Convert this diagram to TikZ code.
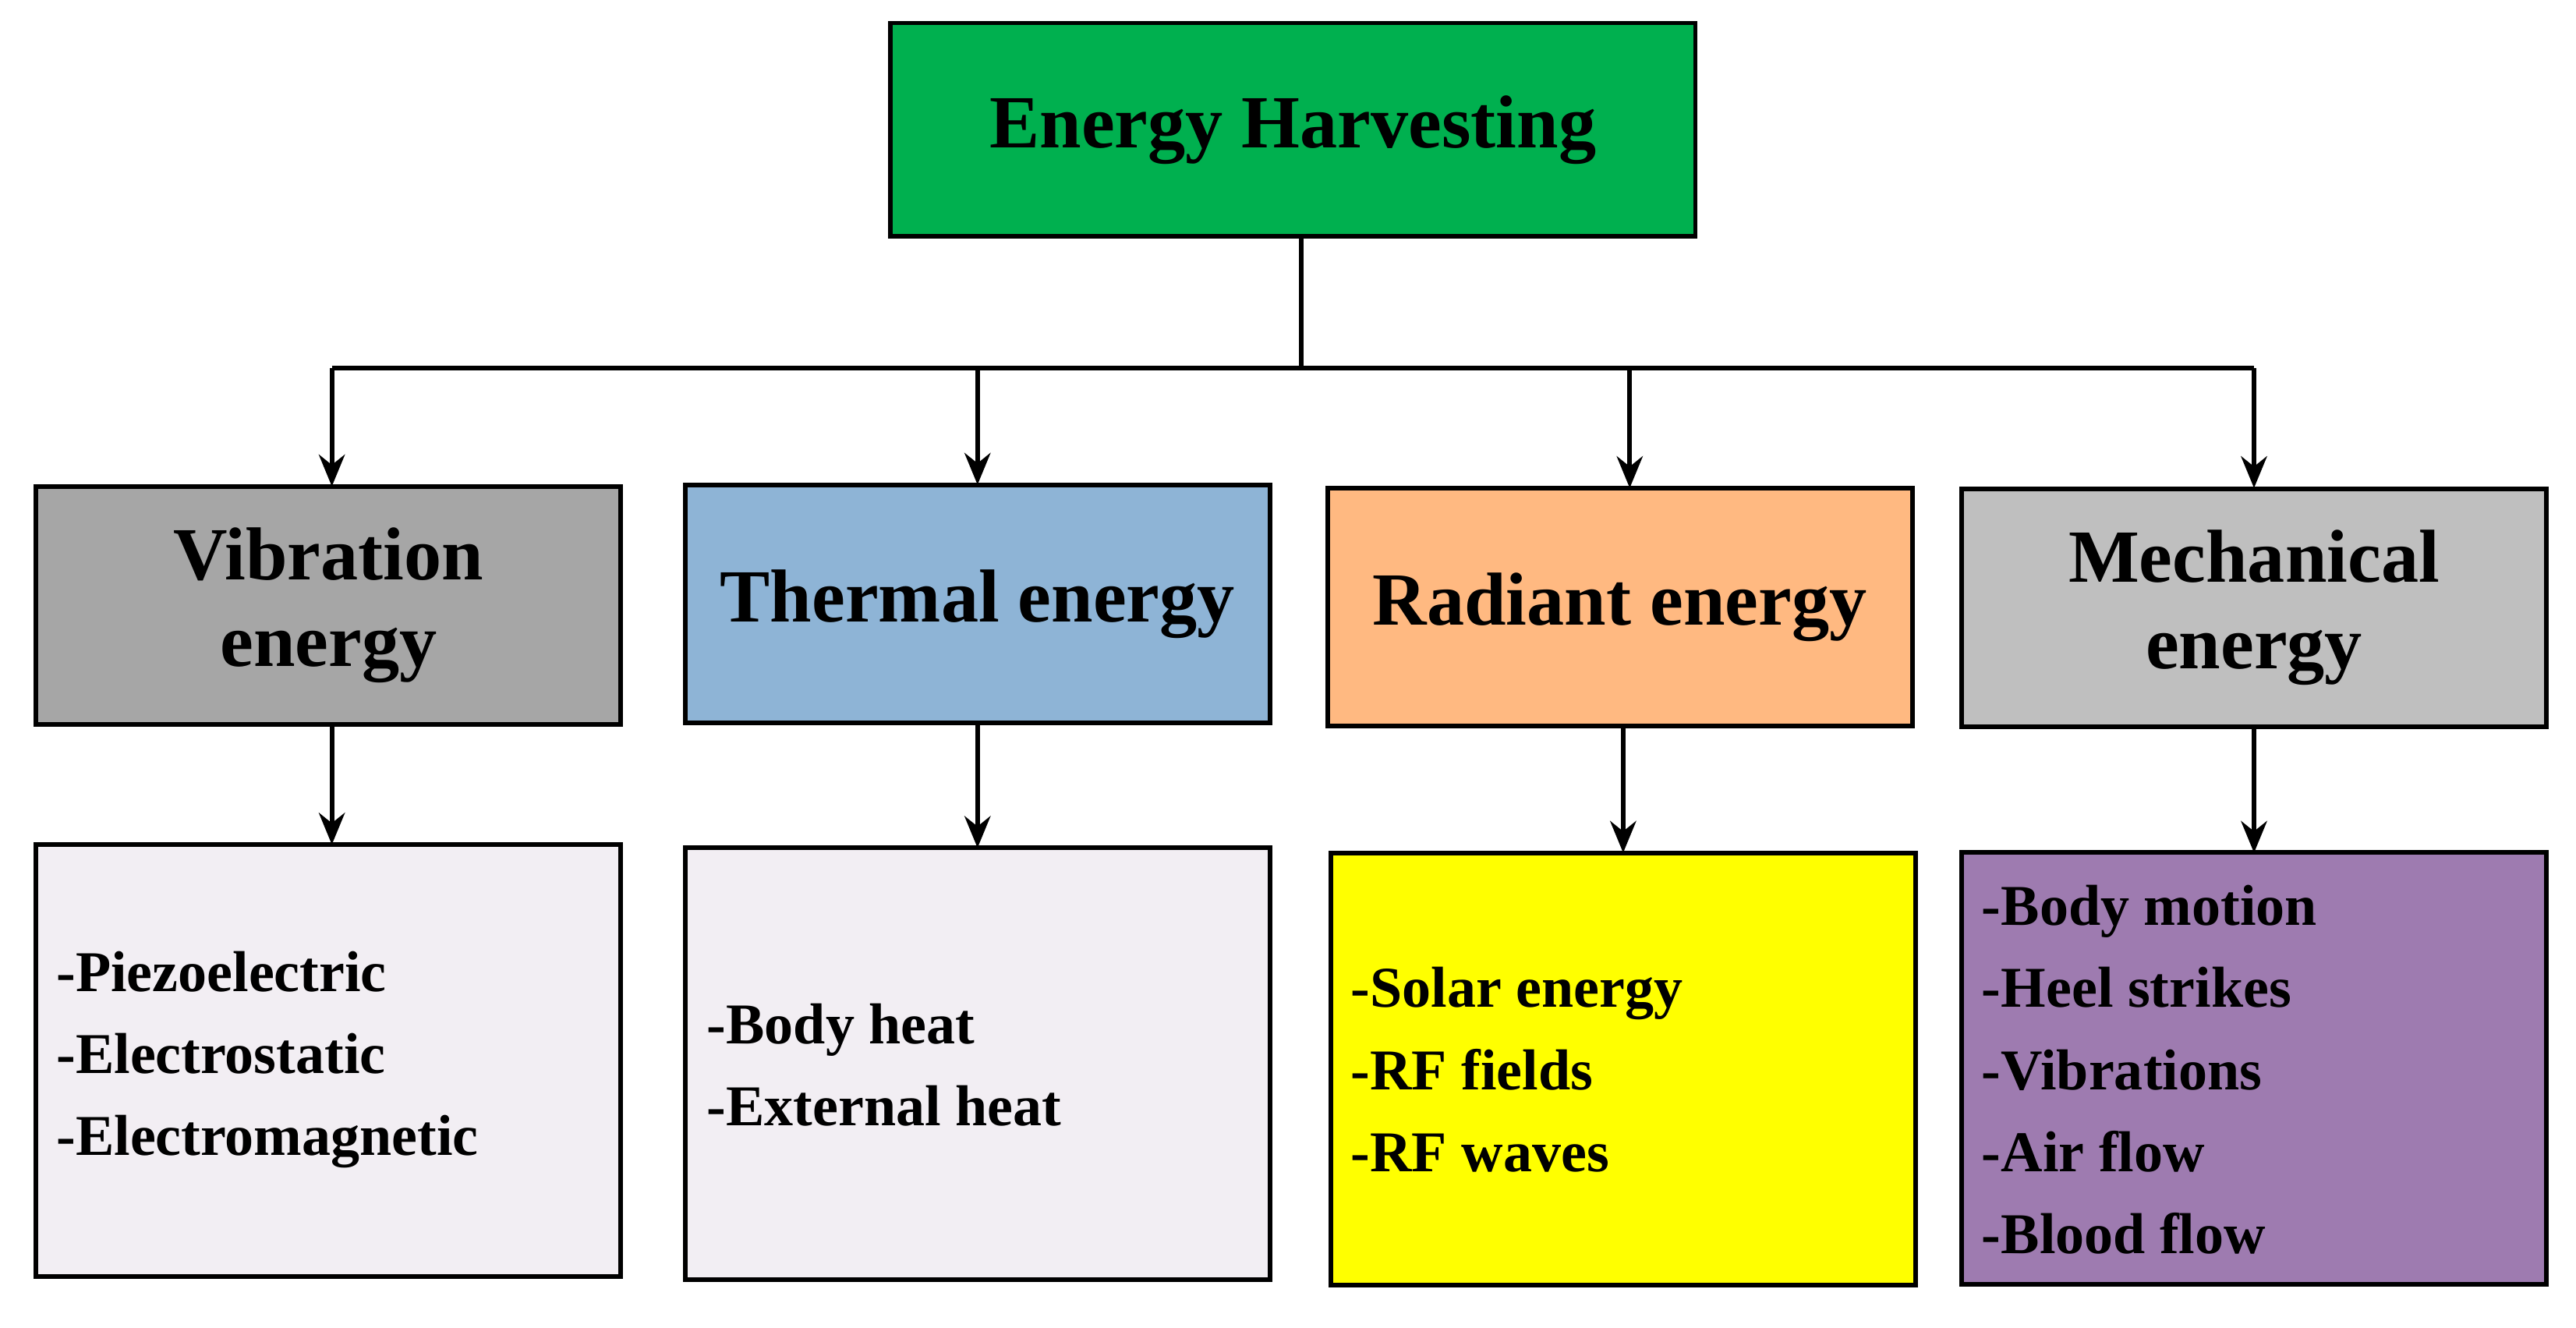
\documentclass[tikz,border=0pt]{standalone}
\usepackage{fontspec}
\setmainfont{Liberation Serif}
\usetikzlibrary{arrows.meta}
\definecolor{cgreen}{HTML}{00B04F}
\definecolor{cvib}{HTML}{A6A6A6}
\definecolor{ctherm}{HTML}{8EB4D6}
\definecolor{crad}{HTML}{FFB981}
\definecolor{cmech}{HTML}{BFBFBF}
\definecolor{clight}{HTML}{F2EEF3}
\definecolor{cyel}{HTML}{FFFF00}
\definecolor{cpur}{HTML}{9E7BB0}
\begin{document}
\begin{tikzpicture}[x=0.02cm,y=-0.02cm,
  box/.style={draw=black,line width=1.6pt,inner sep=0pt,font=\bfseries\fontsize{26}{30}\selectfont,align=center},
  cat/.style={box,minimum width=7.12cm,minimum height=2.9cm},
  leaf/.style={box,minimum width=7.12cm,minimum height=5.26cm},
  items/.style={anchor=west,align=left,font=\bfseries\fontsize{20}{28.45}\selectfont,inner sep=0pt},
  arr/.style={line width=1.6pt,-{Stealth[length=11pt,width=9pt]}},
  ln/.style={line width=1.6pt}]
\useasboundingbox (0,0) rectangle (1568,808);
\node[box,fill=cgreen,minimum width=9.8cm,minimum height=2.6cm] (top) at (787,79) {Energy Harvesting};
\node[cat,fill=cvib] (vib) at (200,368.5) {Vibration\\energy};
\node[cat,fill=ctherm] (the) at (595,367.5) {Thermal energy};
\node[cat,fill=crad] (rad) at (986,369.5) {Radiant energy};
\node[cat,fill=cmech] (mec) at (1372,370) {Mechanical\\energy};
\node[leaf,fill=clight] (l1) at (200,645.5) {};
\node[leaf,fill=clight] (l2) at (595,647.5) {};
\node[leaf,fill=cyel] (l3) at (988,650.5) {};
\node[leaf,fill=cpur] (l4) at (1372,650) {};
\node[items] (t1) at (34,645) {-Piezoelectric\\-Electrostatic\\-Electromagnetic};
\node[items] (t2) at (430,648) {-Body heat\\-External heat};
\node[items] (t3) at (822,651) {-Solar energy\\-RF fields\\-RF waves};
\node[items] (t4) at (1206,651) {-Body motion\\-Heel strikes\\-Vibrations\\-Air flow\\-Blood flow};
\coordinate (j) at (792,224);
\draw[ln] (top.south -| j) -- (j);
\draw[ln] (202,224) -- (1372,224);
\draw[arr] (202,224) -- (202,296);
\draw[arr] (595,224) -- (595,295);
\draw[arr] (992,224) -- (992,297);
\draw[arr] (1372,224) -- (1372,297);
\draw[arr] (vib.south -| 202,0) -- (202,514);
\draw[arr] (the.south -| 595,0) -- (595,516);
\draw[arr] (rad.south -| 988,0) -- (988,519);
\draw[arr] (mec.south -| 1372,0) -- (1372,519);
\end{tikzpicture}
\end{document}
